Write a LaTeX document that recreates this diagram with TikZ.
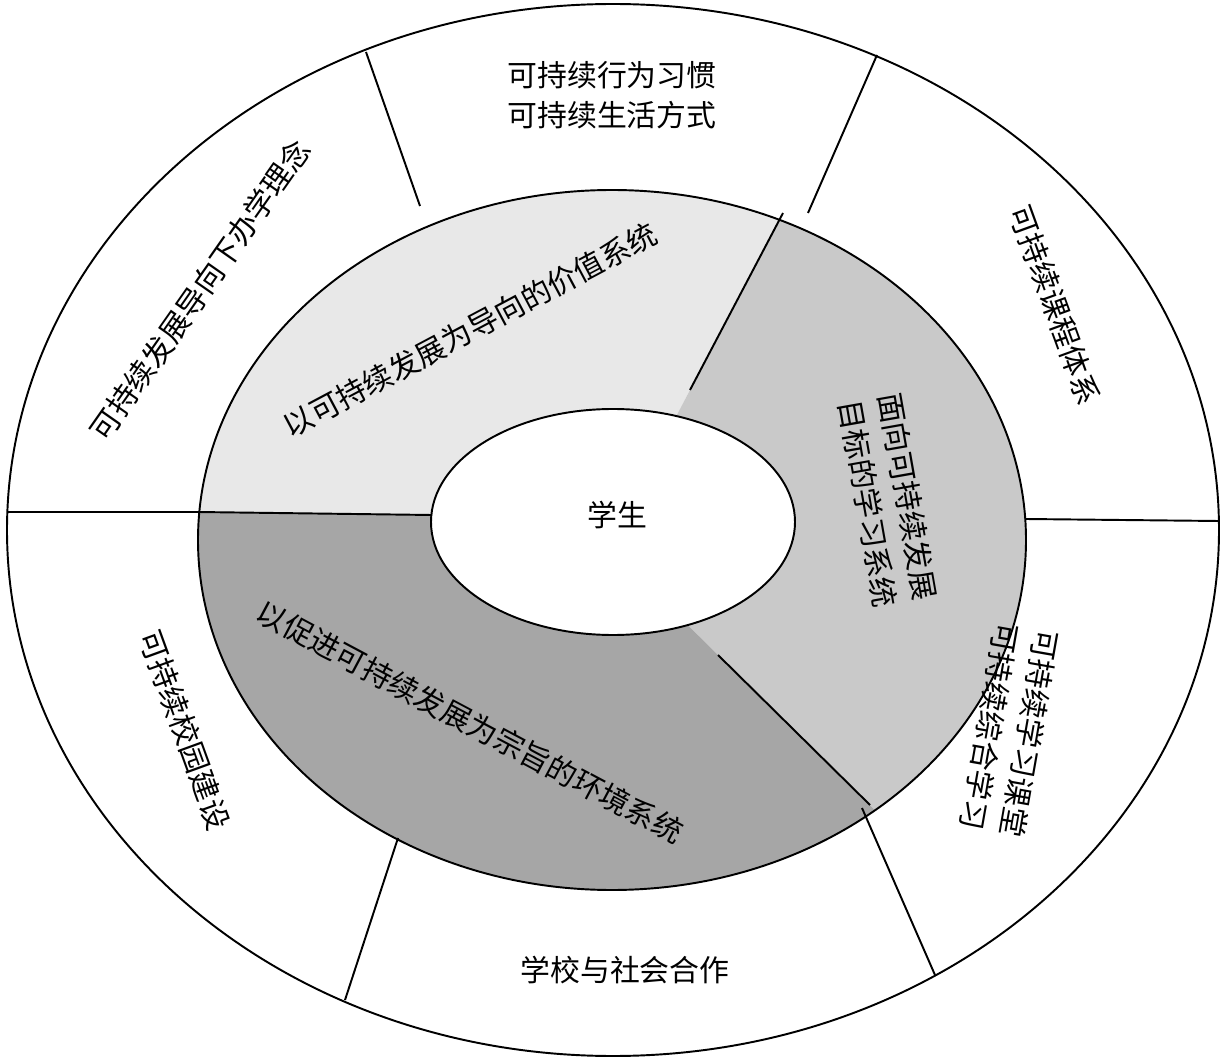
\documentclass[tikz,border=0pt]{standalone}
\usepackage{fontspec}
\newfontfamily\cjk{Noto Sans CJK SC}
\begin{document}
\begin{tikzpicture}[x=0.02cm,y=-0.02cm,line width=1.1pt,
  lbl/.style={font=\cjk\fontsize{17}{23}\selectfont,align=center,inner sep=0pt}]
\useasboundingbox (0,0) rectangle (1225,1064);
% rings
\coordinate (c) at (613,530);
\draw[fill=white] (c) ellipse [x radius=606,y radius=526];
\begin{scope}
  \clip (612,540) ellipse [x radius=414,y radius=350];
  \fill[gray!18] (613,520) -- (432,515) -- (150,512) -- (150,150) -- (809,163) -- (690,390) -- (640,485) -- cycle;
  \fill[gray!42] (613,520) -- (640,485) -- (690,390) -- (809,163) -- (1100,163) -- (1100,900) -- (920,855) -- (718,655) -- (642,580) -- cycle;
  \fill[gray!70] (613,520) -- (642,580) -- (718,655) -- (920,855) -- (920,1000) -- (150,1000) -- (150,512) -- (432,515) -- cycle;
\end{scope}
\draw (612,540) ellipse [x radius=414,y radius=350];
\draw[fill=white] (613,522) ellipse [x radius=182,y radius=113];
% dividers
\coordinate (a1) at (420,206); \coordinate (b1) at (366,52);
\coordinate (a2) at (808,213); \coordinate (b2) at (877,55);
\coordinate (a3) at (1026,519); \coordinate (b3) at (1219,521);
\coordinate (a4) at (862,808); \coordinate (b4) at (935,975);
\coordinate (a5) at (398,838); \coordinate (b5) at (345,1000);
\coordinate (a6) at (198,512); \coordinate (b6) at (8,512);
\coordinate (i1) at (783,213); \coordinate (j1) at (690,390);
\coordinate (i2) at (718,655); \coordinate (j2) at (870,805);
\coordinate (j3) at (432,515);
\foreach \p in {1,...,6} \draw (a\p) -- (b\p);
\draw (i1) -- (j1);
\draw (i2) -- (j2);
\draw (a6) -- (j3);
% labels
\node[lbl] (student) at (617,515) {学生};
\node[lbl,rotate=28] (value) at (470,330) {以可持续发展为导向的价值系统};
\node[lbl,rotate=-80] (learn) at (888,500) {面向可持续发展\\目标的学习系统};
\node[lbl,rotate=-28] (env) at (470,722) {以促进可持续发展为宗旨的环境系统};
\node[lbl] (habit) at (612,95) {可持续行为习惯\\可持续生活方式};
\node[lbl,rotate=55] (idea) at (200,290) {可持续发展导向下办学理念};
\node[lbl,rotate=-70] (course) at (1055,305) {可持续课程体系};
\node[lbl,rotate=-100] (class) at (1010,730) {可持续学习课堂\\可持续综合学习};
\node[lbl] (coop) at (625,970) {学校与社会合作};
\node[lbl,rotate=-70] (campus) at (185,730) {可持续校园建设};
\end{tikzpicture}
\end{document}
